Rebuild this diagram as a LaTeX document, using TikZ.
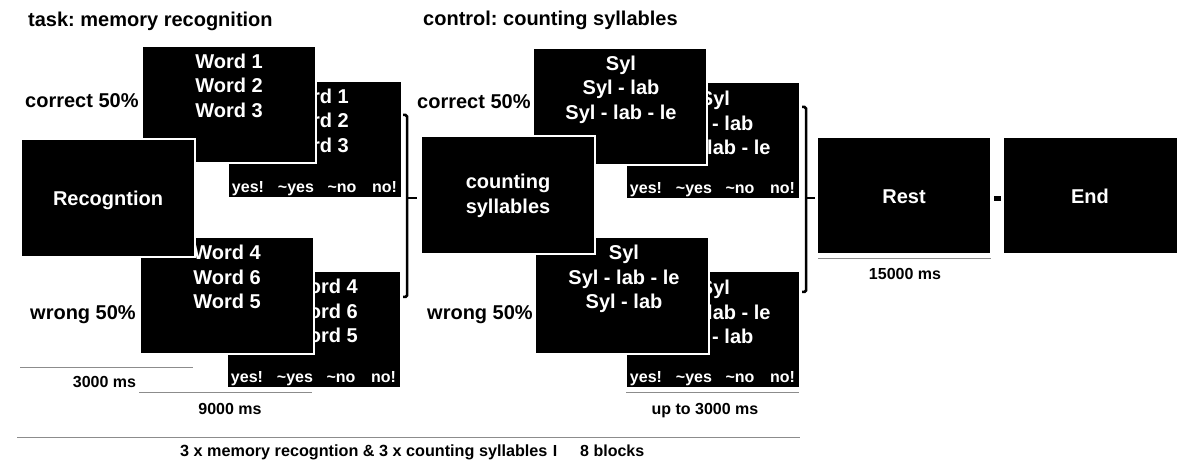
\documentclass[tikz,border=0pt]{standalone}
\usepackage{fontspec}
\setmainfont{Liberation Sans}
\frenchspacing
\newcommand\answerrow[1]{%
  \node[ans] (#1-a1) at ([shift={(20,-5.6)}]#1.south west) {yes!};
  \node[ans] (#1-a2) at ([shift={(68,-5.6)}]#1.south west) {\textasciitilde yes};
  \node[ans] (#1-a3) at ([shift={(114,-5.6)}]#1.south west) {\textasciitilde no};
  \node[ans] (#1-a4) at ([shift={(156.5,-5.6)}]#1.south west) {no!};
}
\begin{document}
\begin{tikzpicture}[x=1pt,y=-1pt,
  screen/.style={fill=black, draw=white, line width=1.2pt, minimum width=174pt, minimum height=117pt, inner sep=0pt, outer sep=0pt, anchor=north west},
  boxtxt/.style={text=white, font=\bfseries\fontsize{20}{24.5}\selectfont, align=center, inner sep=0pt, anchor=north},
  ans/.style={text=white, font=\bfseries\fontsize{16}{19}\selectfont, inner sep=0pt, anchor=base},
  lab/.style={font=\bfseries\fontsize{20}{24}\selectfont, inner sep=0pt, anchor=base west},
  ms/.style={font=\bfseries\fontsize{16}{19}\selectfont, inner sep=0pt, anchor=base},
  timeline/.style={draw=black!45, line width=1pt},
  brace/.style={line width=2.5pt, rounded corners=1.5pt}
]
\useasboundingbox (0,0) rectangle (1184,462);

% titles
\node[lab] (ttask) at (28,26.7) {task: memory recognition};
\node[lab] (tctrl) at (423,25.7) {control: counting syllables};

% ---------- task section ----------
\node[screen] (t1b) at (228,81) {};
\node[boxtxt] (t1b-t) at ([yshift=-7.5pt]t1b.north) {Word 1\\Word 2\\Word 3};
\answerrow{t1b}
\node[screen] (t1) at (142,46) {};
\node[boxtxt] (t1-t) at ([yshift=-7.5pt]t1.north) {Word 1\\Word 2\\Word 3};

\node[screen] (t2b) at (227,271) {};
\node[boxtxt] (t2b-t) at ([xshift=10pt,yshift=-8pt]t2b.north) {Word 4\\Word 6\\Word 5};
\answerrow{t2b}
\node[screen] (t2) at (140,237) {};
\node[boxtxt] (t2-t) at ([yshift=-8pt]t2.north) {Word 4\\Word 6\\Word 5};

\node[screen, minimum height=118pt] (rec) at (21,139) {};
\node[boxtxt, anchor=base] (rec-t) at (108,205.7) {Recogntion};

\node[lab] (tcor) at (25,107.5) {correct 50\%};
\node[lab] (twr) at (30,320) {wrong 50\%};

% ---------- control section ----------
\node[screen] (c1b) at (626,82) {};
\node[boxtxt] (c1b-t) at ([xshift=2pt,yshift=-9pt]c1b.north) {Syl\\Syl - lab\\Syl - lab - le};
\answerrow{c1b}
\node[screen] (c1) at (533,48) {};
\node[boxtxt] (c1-t) at ([xshift=1pt,yshift=-7.5pt]c1.north) {Syl\\Syl - lab\\Syl - lab - le};

\node[screen] (c2b) at (626,271) {};
\node[boxtxt] (c2b-t) at ([xshift=2pt,yshift=-9pt]c2b.north) {Syl\\Syl - lab - le\\Syl - lab};
\answerrow{c2b}
\node[screen] (c2) at (535,237) {};
\node[boxtxt] (c2-t) at ([xshift=2pt,yshift=-8pt]c2.north) {Syl\\Syl - lab - le\\Syl - lab};

\node[screen, minimum height=118pt] (cs) at (421,136) {};
\node[boxtxt, anchor=north] (cs-t) at (508,174) {counting\\syllables};

\node[lab] (ccor) at (417,109) {correct 50\%};
\node[lab] (cwr) at (427,320) {wrong 50\%};

% ---------- rest / end ----------
\node[screen] (rest) at (817,137) {};
\node[boxtxt, anchor=base] (rest-t) at (904,204) {Rest};
\node[screen, minimum width=175pt] (end) at (1003,137) {};
\node[boxtxt, anchor=base] (end-t) at (1090,204) {End};

% brackets
\coordinate (b1a) at (403,115);
\coordinate (b1b) at (407,115);
\coordinate (b1c) at (407,297);
\coordinate (b1d) at (403,297);
\coordinate (b1m) at (407,198);
\coordinate (b1e) at (417,198);
\draw[brace] (b1a) -- (b1b) -- (b1c) -- (b1d);
\draw[line width=2.5pt] (b1m) -- (b1e);

\coordinate (b2a) at (802,107);
\coordinate (b2b) at (806,107);
\coordinate (b2c) at (806,292);
\coordinate (b2d) at (802,292);
\coordinate (b2m) at (806,198);
\coordinate (b2e) at (815,198);
\draw[brace] (b2a) -- (b2b) -- (b2c) -- (b2d);
\draw[line width=2.5pt] (b2m) -- (b2e);

% dash between rest and end
\fill[black] (994,196) rectangle (1001,201);

% time lines
\draw[timeline] (20,368) -- (193,368);
\node[ms] (ms3) at (104.5,387.7) {3000 ms};
\draw[timeline] (139,393) -- (312,393);
\node[ms] (ms9) at (230,414) {9000 ms};
\draw[timeline] (626,393) -- (799,393);
\node[ms] (msu) at (705,414) {up to 3000 ms};
\draw[timeline] (818,259) -- (991,259);
\node[ms] (ms15) at (905,280) {15000 ms};
\draw[timeline] (17,437) -- (800,437);
\node[ms, anchor=base west, font=\bfseries\fontsize{16.2}{19}\selectfont] (blk1) at (180,456.7) {3 x memory recogntion \& 3 x counting syllables};
\node[ms] (blk2) at (555,456.7) {I};
\node[ms, anchor=base west] (blk3) at (580,456.7) {8 blocks};
\end{tikzpicture}
\end{document}
